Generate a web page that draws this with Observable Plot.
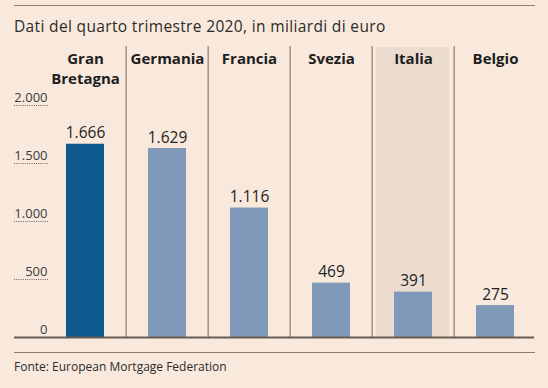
<!DOCTYPE html>
<html>
<head>
<meta charset="utf-8">
<script src="https://cdn.jsdelivr.net/npm/d3@7"></script>
<script src="https://cdn.jsdelivr.net/npm/@observablehq/plot@0.6"></script>
<style>
  html, body { margin: 0; padding: 0; background: #f9e9dc; }
  #wrap { position: relative; width: 548px; height: 388px; background: #f9e9dc; font-family: "Open Sans", sans-serif; overflow: hidden; }
  .rule { position: absolute; left: 14px; width: 521px; height: 0; border-top: 1.5px solid #8c7d70; }
  #sub { position: absolute; left: 14px; top: 15px; font-size: 15.5px; letter-spacing: 0.35px; color: #2b2b2b; white-space: nowrap; }
  #chart { position: absolute; left: 0; top: 40px; }
  #cap { position: absolute; left: 14px; top: 358px; font-size: 12px; color: #2b2b2b; white-space: nowrap; }
</style>
</head>
<body>
<div id="wrap">
  <div class="rule" style="top:5px"></div>
  <div id="sub">Dati del quarto trimestre 2020, in miliardi di euro</div>
  <div id="chart"></div>
  <div class="rule" style="top:352px"></div>
  <div id="cap">Fonte: European Mortgage Federation</div>
</div>
<script>
const countries = ["Gran Bretagna", "Germania", "Francia", "Svezia", "Italia", "Belgio"];
const labels = ["Gran\nBretagna", "Germania", "Francia", "Svezia", "Italia", "Belgio"];
const values = [1666, 1629, 1116, 469, 391, 275];
const yTicks = [0, 500, 1000, 1500, 2000];
const highlighted = "Gran Bretagna";
const shaded = "Italia";

const data = countries.map((c, i) => ({country: c, label: labels[i], value: values[i]}));
const it = d3.formatLocale({decimal: ",", thousands: ".", grouping: [3], currency: ["", "€"]});
const fmt = it.format(",d");

const W = 548, H = 312;
const x0 = 42, x1 = 538;
const bw = (x1 - x0) / countries.length;

const chart = Plot.plot({
  width: W,
  height: H,
  marginLeft: 14,
  marginRight: 14,
  marginTop: 6,
  marginBottom: 15,
  style: {background: "transparent", fontFamily: "'Open Sans', sans-serif"},
  x: {type: "band", domain: countries, range: [x0, x1], padding: 0, axis: null},
  y: {domain: [0, 2000], range: [297, 65], axis: null},
  marks: [
    Plot.cell([shaded], {x: d => d, fill: "#ecdccf", insetLeft: 4, insetRight: 5, insetTop: 1}),
    Plot.ruleX(countries.slice(1), {x: d => d, dx: -bw / 2, stroke: "#a09284", strokeWidth: 1.5}),
    Plot.ruleY(yTicks.slice(1), {y: d => d, insetRight: 486, stroke: "#6f655c", strokeDasharray: "1,1.2", strokeWidth: 1}),
    Plot.text(yTicks, {y: d => d, text: d => fmt(d), frameAnchor: "left", textAnchor: "end", dx: 33, dy: -8, fontSize: 13, fill: "#3a3a3a"}),
    Plot.barY(data, {x: "country", y: "value", fill: d => d.country === highlighted ? "#0f5a8e" : "#8199b8", insetLeft: 22, insetRight: 22}),
    Plot.text(data, {x: "country", y: "value", text: d => fmt(d.value), lineAnchor: "bottom", dy: -6, fontSize: 15.5, fill: "#222"}),
    Plot.text(data, {x: "country", text: "label", frameAnchor: "top", lineAnchor: "top", dy: 3, fontSize: 15, fontWeight: "bold", lineHeight: 1.33, fill: "#1e1e1e"}),
    Plot.ruleY([0], {stroke: "#6a5d52", strokeWidth: 2})
  ]
});
document.getElementById("chart").appendChild(chart);
</script>
</body>
</html>
